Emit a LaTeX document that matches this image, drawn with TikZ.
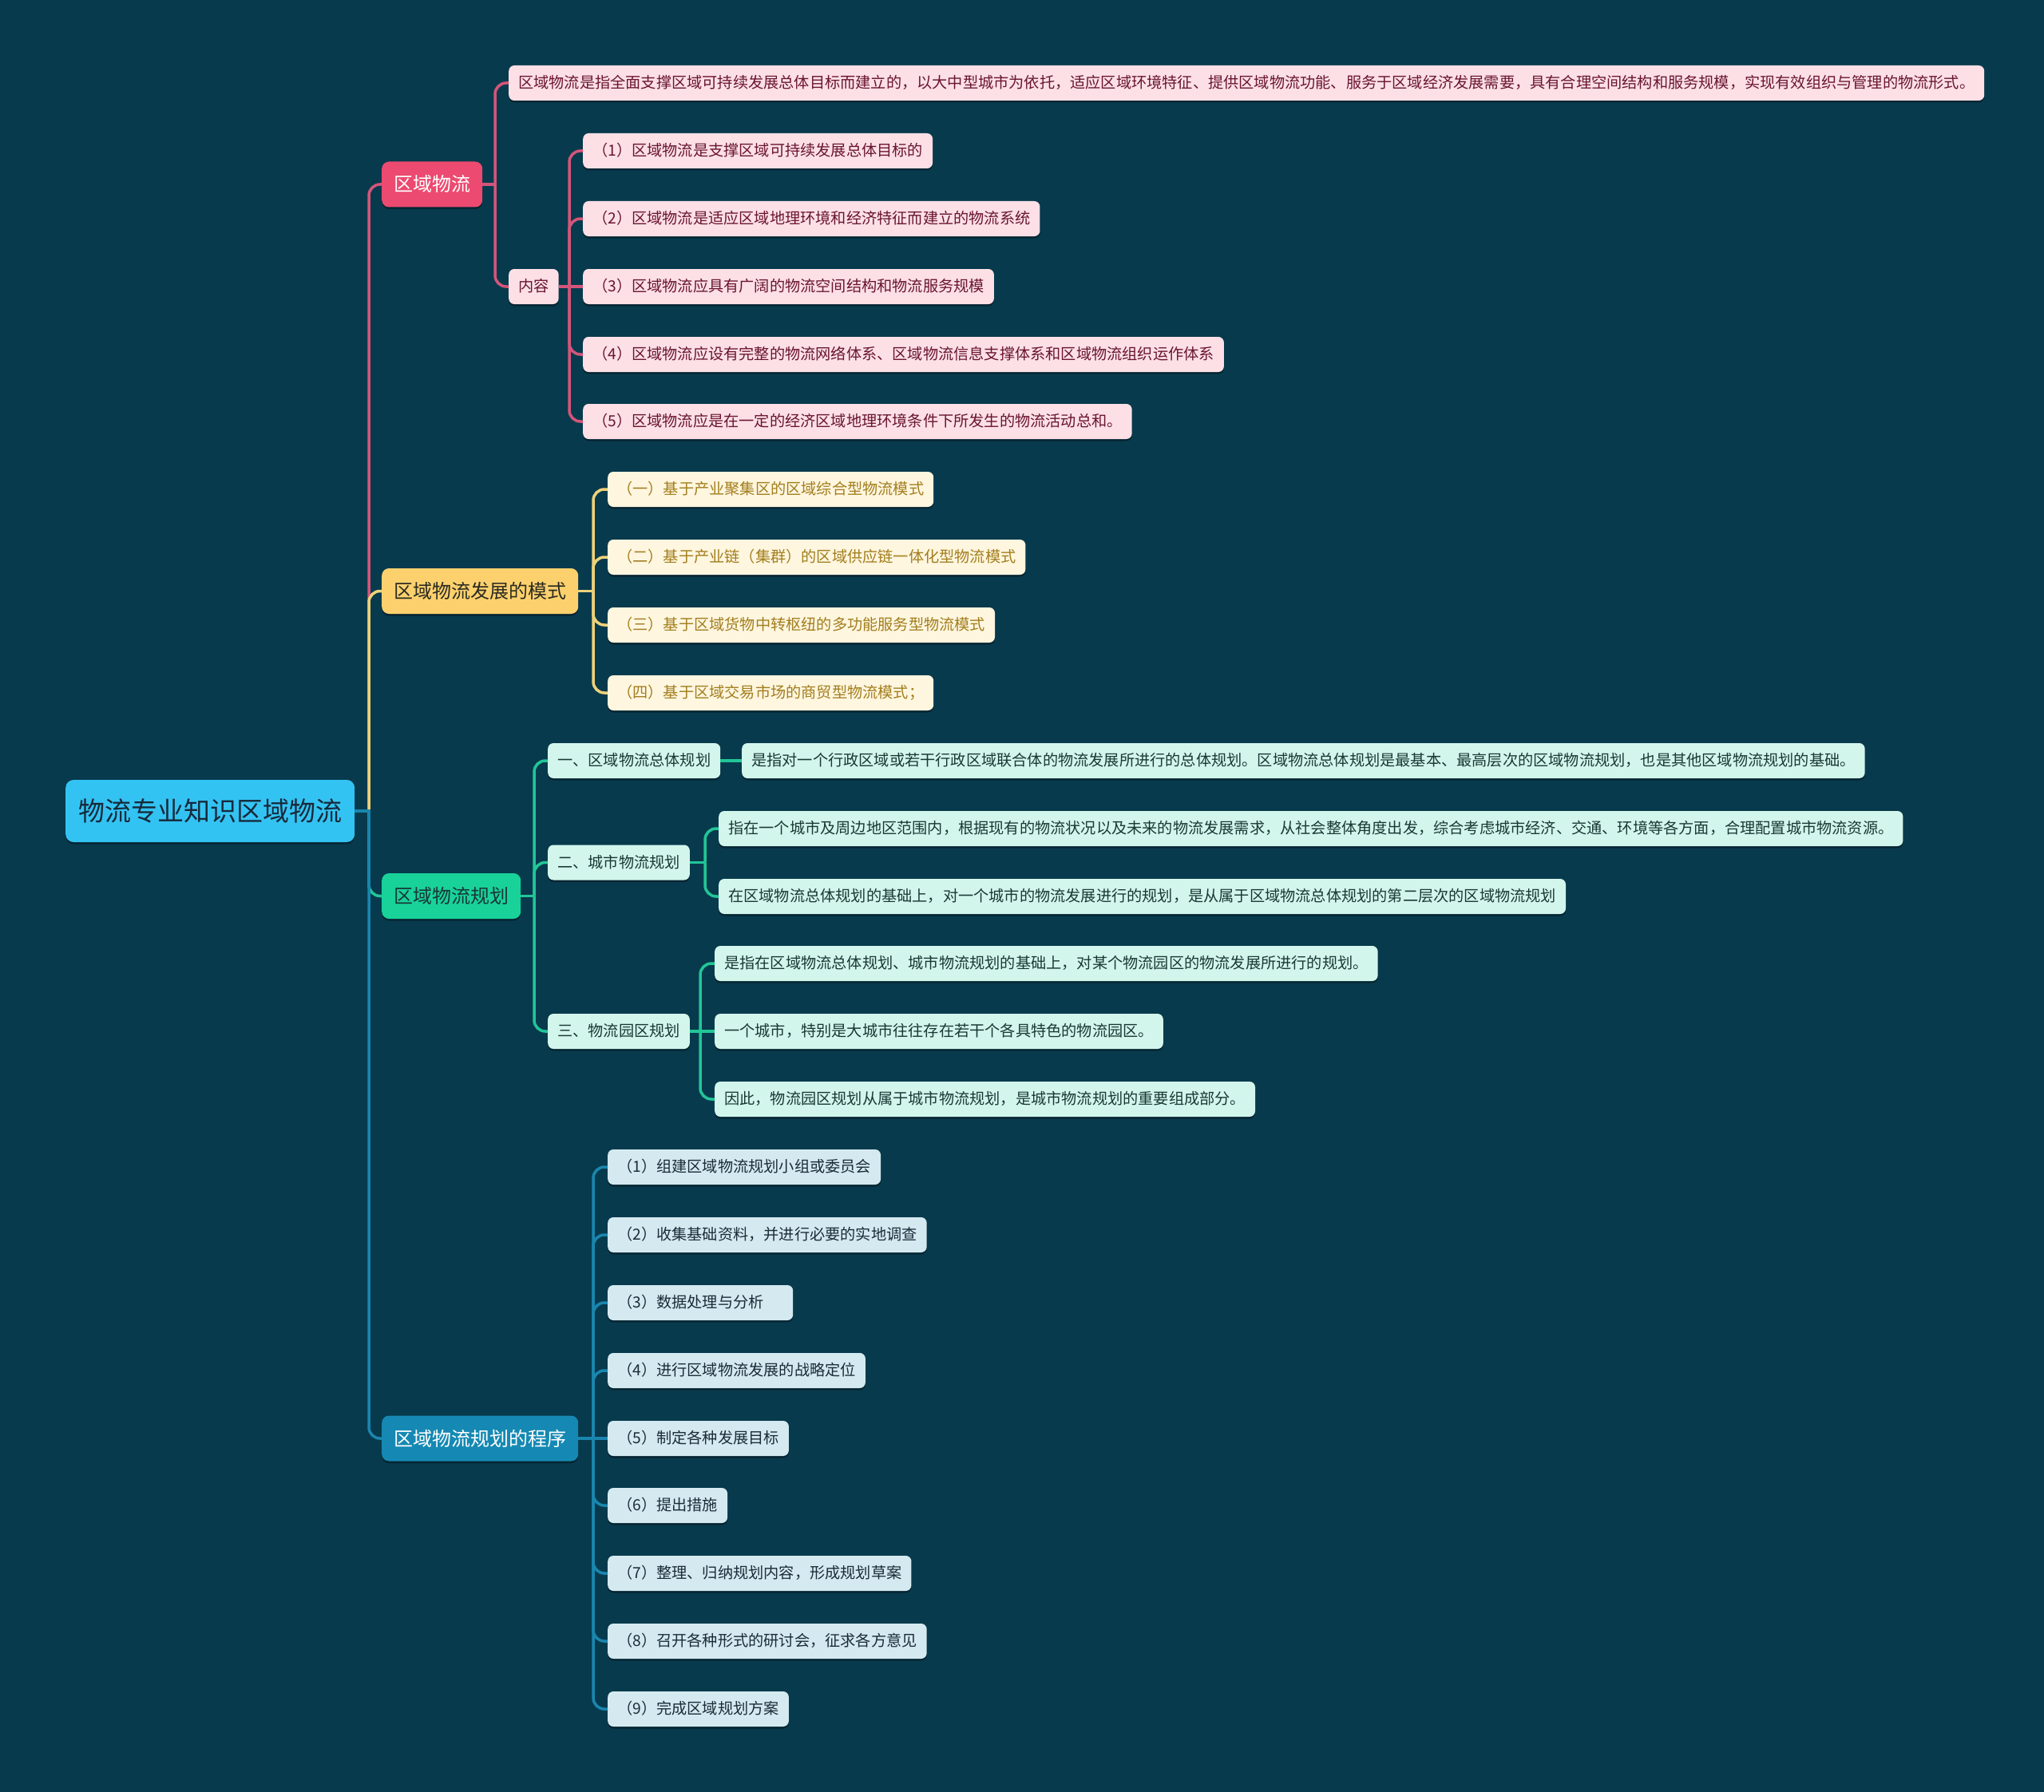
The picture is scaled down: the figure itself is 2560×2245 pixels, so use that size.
\documentclass[tikz,border=0pt]{standalone}
\usepackage{fontspec}
\setmainfont{Noto Sans CJK SC}
\usetikzlibrary{shadows}
\definecolor{bg}{HTML}{083A4D}
\definecolor{rootfill}{HTML}{33C3F3}
\definecolor{roottext}{HTML}{17293A}
\definecolor{pinkA}{HTML}{EC4A70}
\definecolor{pinkL}{HTML}{FCE0E6}
\definecolor{pinkT}{HTML}{6A1530}
\definecolor{pinkC}{HTML}{D4557A}
\definecolor{yelA}{HTML}{FCD16D}
\definecolor{yelL}{HTML}{FEF6DF}
\definecolor{yelT}{HTML}{A37E1E}
\definecolor{yelAT}{HTML}{2B2A22}
\definecolor{yelC}{HTML}{EDD27A}
\definecolor{grnA}{HTML}{18D29A}
\definecolor{grnL}{HTML}{D3F6EC}
\definecolor{grnT}{HTML}{193835}
\definecolor{grnC}{HTML}{22C697}
\definecolor{bluA}{HTML}{1589B3}
\definecolor{bluL}{HTML}{D4EAF0}
\definecolor{bluT}{HTML}{1A2C38}
\definecolor{bluC}{HTML}{1A86AE}
\begin{document}
\begin{tikzpicture}[x=1pt,y=-1pt,
  box/.style={anchor=west, inner ysep=0pt,
    drop shadow={shadow xshift=0pt,shadow yshift=-2.5pt,opacity=0.35,fill=black}},
  leaf/.style={box, rounded corners=7pt, minimum height=44pt, inner xsep=12pt,
    font=\fontsize{19.2}{19.2}\selectfont, text height=16pt, text depth=3pt},
  lone/.style={box, rounded corners=9pt, minimum height=57pt, inner xsep=15pt,
    font=\fontsize{24}{24}\selectfont, text height=21pt, text depth=3pt},
  rootbox/.style={box, rounded corners=10pt, minimum height=78pt, inner xsep=16pt,
    font=\fontsize{33}{33}\selectfont, text height=29pt, text depth=4pt},
  pleaf/.style={leaf, fill=pinkL, text=pinkT},
  yleaf/.style={leaf, fill=yelL, text=yelT},
  gleaf/.style={leaf, fill=grnL, text=grnT},
  bleaf/.style={leaf, fill=bluL, text=bluT},
  conn/.style={line width=3.5pt, rounded corners=14pt}
]
\fill[bg] (0,0) rectangle (2560,2245);
\useasboundingbox (0,0) rectangle (2560,2245);

% root
\node[rootbox, fill=rootfill, text=roottext] (root) at (82,1016) {物流专业知识区域物流};

% level 1
\node[lone, fill=pinkA, text=white] (p1) at (478,231) {区域物流};
\node[lone, fill=yelA, text=yelAT] (y1) at (478,740.5) {区域物流发展的模式};
\node[lone, fill=grnA, text=grnT] (g1) at (478,1122.5) {区域物流规划};
\node[lone, fill=bluA, text=white] (b1) at (478,1802) {区域物流规划的程序};

% pink branch
\node[pleaf] (pd) at (637,104) {区域物流是指全面支撑区域可持续发展总体目标而建立的，以大中型城市为依托，适应区域环境特征、提供区域物流功能、服务于区域经济发展需要，具有合理空间结构和服务规模，实现有效组织与管理的物流形式。};
\node[pleaf] (pn) at (637,359) {内容};
\node[pleaf] (pc1) at (730,189) {（1）区域物流是支撑区域可持续发展总体目标的};
\node[pleaf] (pc2) at (730,274) {（2）区域物流是适应区域地理环境和经济特征而建立的物流系统};
\node[pleaf] (pc3) at (730,359) {（3）区域物流应具有广阔的物流空间结构和物流服务规模};
\node[pleaf] (pc4) at (730,444) {（4）区域物流应设有完整的物流网络体系、区域物流信息支撑体系和区域物流组织运作体系};
\node[pleaf] (pc5) at (730,528) {（5）区域物流应是在一定的经济区域地理环境条件下所发生的物流活动总和。};

% yellow branch
\node[yleaf] (yc1) at (761,613) {（一）基于产业聚集区的区域综合型物流模式};
\node[yleaf] (yc2) at (761,698) {（二）基于产业链（集群）的区域供应链一体化型物流模式};
\node[yleaf] (yc3) at (761,783) {（三）基于区域货物中转枢纽的多功能服务型物流模式};
\node[yleaf] (yc4) at (761,868) {（四）基于区域交易市场的商贸型物流模式；};

% green branch
\node[gleaf] (g2a) at (686,953) {一、区域物流总体规划};
\node[gleaf] (g2b) at (686,1080.5) {二、城市物流规划};
\node[gleaf] (g2c) at (686,1292) {三、物流园区规划};
\node[gleaf] (g3a) at (929,953) {是指对一个行政区域或若干行政区域联合体的物流发展所进行的总体规划。区域物流总体规划是最基本、最高层次的区域物流规划，也是其他区域物流规划的基础。};
\node[gleaf] (g3b1) at (900,1038) {指在一个城市及周边地区范围内，根据现有的物流状况以及未来的物流发展需求，从社会整体角度出发，综合考虑城市经济、交通、环境等各方面，合理配置城市物流资源。};
\node[gleaf] (g3b2) at (900,1123) {在区域物流总体规划的基础上，对一个城市的物流发展进行的规划，是从属于区域物流总体规划的第二层次的区域物流规划};
\node[gleaf] (g3c1) at (895,1207) {是指在区域物流总体规划、城市物流规划的基础上，对某个物流园区的物流发展所进行的规划。};
\node[gleaf] (g3c2) at (895,1292) {一个城市，特别是大城市往往存在若干个各具特色的物流园区。};
\node[gleaf] (g3c3) at (895,1377) {因此，物流园区规划从属于城市物流规划，是城市物流规划的重要组成部分。};

% blue branch
\node[bleaf] (bc1) at (761,1462) {（1）组建区域物流规划小组或委员会};
\node[bleaf] (bc2) at (761,1547) {（2）收集基础资料，并进行必要的实地调查};
\node[bleaf, minimum width=232pt, text width=208pt, align=left] (bc3) at (761,1632) {（3）数据处理与分析};
\node[bleaf] (bc4) at (761,1717) {（4）进行区域物流发展的战略定位};
\node[bleaf] (bc5) at (761,1802) {（5）制定各种发展目标};
\node[bleaf] (bc6) at (761,1886) {（6）提出措施};
\node[bleaf] (bc7) at (761,1971) {（7）整理、归纳规划内容，形成规划草案};
\node[bleaf] (bc8) at (761,2056) {（8）召开各种形式的研讨会，征求各方意见};
\node[bleaf] (bc9) at (761,2141) {（9）完成区域规划方案};

% trunk connectors
\coordinate (j0) at (462,1016);
\draw[conn, pinkC] (j0) |- (p1.west);
\draw[conn, yelC] (j0) |- (y1.west);
\draw[conn, grnC] (j0) |- (g1.west);
\draw[conn, bluC] (j0) |- (b1.west);
\draw[line width=3.5pt, bluC] (root.east) -- (464,1016);

% pink connectors
\coordinate (pj) at (620,231);
\draw[conn, pinkC] (p1.east) -- (pj);
\draw[conn, pinkC] (pj) |- (pd.west);
\draw[conn, pinkC] (pj) |- (pn.west);
\coordinate (nj) at (713,359);
\draw[conn, pinkC] (pn.east) -- (pc3.west);
\foreach \c in {pc1,pc2,pc4,pc5} \draw[conn, pinkC] (nj) |- (\c.west);

% yellow connectors
\coordinate (yj) at (743,740.5);
\draw[conn, yelC] (y1.east) -- (yj);
\foreach \c in {yc1,yc2,yc3,yc4} \draw[conn, yelC] (yj) |- (\c.west);

% green connectors
\coordinate (gj) at (669,1122.5);
\draw[conn, grnC] (g1.east) -- (gj);
\foreach \c in {g2a,g2b,g2c} \draw[conn, grnC] (gj) |- (\c.west);
\draw[conn, grnC] (g2a.east) -- (g3a.west);
\coordinate (gbj) at (883,1080.5);
\draw[conn, grnC] (g2b.east) -- (gbj);
\foreach \c in {g3b1,g3b2} \draw[conn, grnC] (gbj) |- (\c.west);
\coordinate (gcj) at (877,1292);
\draw[conn, grnC] (g2c.east) -- (g3c2.west);
\foreach \c in {g3c1,g3c3} \draw[conn, grnC] (gcj) |- (\c.west);

% blue connectors
\coordinate (bj) at (743,1802);
\draw[conn, bluC] (b1.east) -- (bc5.west);
\foreach \c in {bc1,bc2,bc3,bc4,bc6,bc7,bc8,bc9} \draw[conn, bluC] (bj) |- (\c.west);
\end{tikzpicture}
\end{document}
